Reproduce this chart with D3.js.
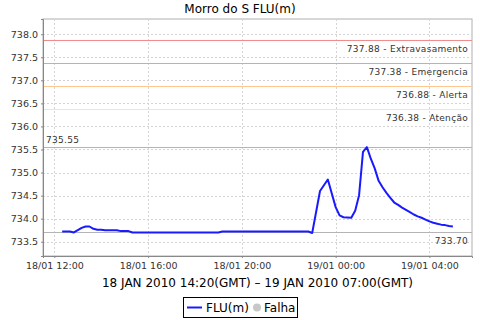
<!DOCTYPE html>
<html>
<head>
<meta charset="utf-8">
<script src="https://cdn.jsdelivr.net/npm/d3@7"></script>
<style>
  body { margin: 0; background: #fff; }
  svg { display: block; font-family: "DejaVu Sans", sans-serif; }
</style>
</head>
<body>
<div id="chart"></div>
<script>
// readings (local time, 10 min steps where the curve bends)
const times = [
  "2010-01-18 12:20", "2010-01-18 12:30", "2010-01-18 12:40", "2010-01-18 12:50",
  "2010-01-18 13:00", "2010-01-18 13:10", "2010-01-18 13:20", "2010-01-18 13:30",
  "2010-01-18 13:40", "2010-01-18 13:50", "2010-01-18 14:00", "2010-01-18 14:10",
  "2010-01-18 14:20", "2010-01-18 14:30", "2010-01-18 14:40", "2010-01-18 14:50",
  "2010-01-18 15:00", "2010-01-18 15:10", "2010-01-18 15:20", "2010-01-18 19:00",
  "2010-01-18 19:10", "2010-01-18 22:50", "2010-01-18 23:00", "2010-01-18 23:20",
  "2010-01-18 23:40", "2010-01-19 00:00", "2010-01-19 00:10", "2010-01-19 00:20",
  "2010-01-19 00:40", "2010-01-19 00:50", "2010-01-19 01:00", "2010-01-19 01:10",
  "2010-01-19 01:20", "2010-01-19 01:30", "2010-01-19 01:40", "2010-01-19 01:50",
  "2010-01-19 02:00", "2010-01-19 02:10", "2010-01-19 02:20", "2010-01-19 02:30",
  "2010-01-19 02:40", "2010-01-19 02:50", "2010-01-19 03:00", "2010-01-19 03:10",
  "2010-01-19 03:20", "2010-01-19 03:30", "2010-01-19 03:40", "2010-01-19 03:50",
  "2010-01-19 04:00", "2010-01-19 04:10", "2010-01-19 04:20", "2010-01-19 04:30",
  "2010-01-19 04:40", "2010-01-19 04:50", "2010-01-19 05:00"
]
const flu = [
  733.72, 733.72, 733.72, 733.70,
  733.75, 733.80, 733.83, 733.83,
  733.78, 733.76, 733.76, 733.75,
  733.75, 733.75, 733.75, 733.73,
  733.73, 733.73, 733.70, 733.70,
  733.72, 733.72, 733.69, 734.60,
  734.85, 734.25, 734.07, 734.03,
  734.02, 734.17, 734.51, 735.45,
  735.55, 735.30, 735.09, 734.82,
  734.68, 734.56, 734.45, 734.35,
  734.30, 734.24, 734.19, 734.14,
  734.09, 734.05, 734.02, 733.98,
  733.94, 733.91, 733.89, 733.87,
  733.86, 733.84, 733.83
]

// threshold markers
const levelValues = [737.88, 737.38, 736.88, 736.38]
const levelNames = ["Extravasamento", "Emergencia", "Alerta", "Atenção"]
const levelColors = ["#f08c8c", "#ff80ff", "#ffc890", "#f8f07c"]

const maxValue = 735.55
const minValue = 733.70

const yTicks = [733.5, 734.0, 734.5, 735.0, 735.5, 736.0, 736.5, 737.0, 737.5, 738.0]
const xTicks = ["2010-01-18 12:00", "2010-01-18 16:00", "2010-01-18 20:00", "2010-01-19 00:00", "2010-01-19 04:00"]
const xDomain = ["2010-01-18 11:31", "2010-01-19 05:49"]
const yDomain = [733.19, 738.33]

const title = "Morro do S FLU(m)"
const xTitle = "18 JAN 2010 14:20(GMT) – 19 JAN 2010 07:00(GMT)"

const width = 480
const height = 320
const plot = { left: 43, top: 19, right: 472, bottom: 256 }

const parse = d3.utcParse("%Y-%m-%d %H:%M")
const fmt = d3.utcFormat("%d/%m %H:%M")

const data = times.map((t, i) => ({ t: parse(t), v: flu[i] }))

const svg = d3.select("#chart").append("svg")
  .attr("width", width)
  .attr("height", height)

const x = d3.scaleUtc().domain(xDomain.map(parse)).range([plot.left, plot.right])
const y = d3.scaleLinear().domain(yDomain).range([plot.bottom, plot.top])

svg.append("text")
  .attr("x", width / 2).attr("y", 13)
  .attr("text-anchor", "middle")
  .attr("font-size", 12)
  .attr("fill", "#000")
  .text(title)

svg.append("rect")
  .attr("x", plot.left).attr("y", plot.top)
  .attr("width", plot.right - plot.left).attr("height", plot.bottom - plot.top)
  .attr("fill", "#fff")
  .attr("stroke", "#b0b0b0")

// gridlines
svg.append("g").selectAll("line")
  .data(yTicks).join("line")
  .attr("x1", plot.left).attr("x2", plot.right)
  .attr("y1", d => Math.round(y(d)) + 0.5).attr("y2", d => Math.round(y(d)) + 0.5)
  .attr("stroke", "#d4d4d4").attr("stroke-dasharray", "2,2")

svg.append("g").selectAll("line")
  .data(xTicks.map(parse)).join("line")
  .attr("x1", d => Math.round(x(d)) + 0.5).attr("x2", d => Math.round(x(d)) + 0.5)
  .attr("y1", plot.top).attr("y2", plot.bottom)
  .attr("stroke", "#d4d4d4").attr("stroke-dasharray", "2,2")

// threshold lines + labels
levelValues.forEach((v, i) => {
  const yy = Math.round(y(v)) + 0.5
  svg.append("line")
    .attr("x1", plot.left).attr("x2", plot.right)
    .attr("y1", yy).attr("y2", yy)
    .attr("stroke", levelColors[i])
  svg.append("text")
    .attr("x", plot.right - 4).attr("y", yy + 11)
    .attr("text-anchor", "end")
    .attr("font-size", 9)
    .attr("letter-spacing", 0.3)
    .attr("fill", "#333")
    .text(`${v.toFixed(2)} - ${levelNames[i]}`)
})

// max / min lines
const yMax = Math.round(y(maxValue)) + 0.5
const yMin = Math.round(y(minValue)) + 0.5
svg.append("line")
  .attr("x1", plot.left).attr("x2", plot.right)
  .attr("y1", yMax).attr("y2", yMax)
  .attr("stroke", "#b4b4b4")
svg.append("text")
  .attr("x", plot.left + 3).attr("y", yMax - 5)
  .attr("font-size", 9).attr("letter-spacing", 0.3)
  .attr("fill", "#333")
  .text(maxValue.toFixed(2))
svg.append("line")
  .attr("x1", plot.left).attr("x2", plot.right)
  .attr("y1", yMin).attr("y2", yMin)
  .attr("stroke", "#b4b4b4")
svg.append("text")
  .attr("x", plot.right - 4).attr("y", yMin + 11)
  .attr("text-anchor", "end")
  .attr("font-size", 9).attr("letter-spacing", 0.3)
  .attr("fill", "#333")
  .text(minValue.toFixed(2))

// the series
svg.append("path")
  .datum(data)
  .attr("fill", "none")
  .attr("stroke", "#1a1aff")
  .attr("stroke-width", 2)
  .attr("stroke-linejoin", "round")
  .attr("d", d3.line().x(d => x(d.t)).y(d => y(d.v)))

// axes
const yAxis = svg.append("g")
  .attr("transform", `translate(${plot.left},0)`)
  .call(d3.axisLeft(y).tickValues(yTicks).tickFormat(d3.format(".1f")).tickSize(2).tickPadding(3))
yAxis.select(".domain").attr("stroke", "#888")
yAxis.selectAll(".tick line").attr("stroke", "#888")
yAxis.selectAll("text").attr("font-size", 9.5).attr("fill", "#333")
  .attr("font-family", "DejaVu Sans")

const xAxis = svg.append("g")
  .attr("transform", `translate(0,${plot.bottom})`)
  .call(d3.axisBottom(x).tickValues(xTicks.map(parse)).tickFormat(fmt).tickSize(2).tickPadding(4))
xAxis.select(".domain").attr("stroke", "#888")
xAxis.selectAll(".tick line").attr("stroke", "#888")
xAxis.selectAll("text").attr("font-size", 9.5).attr("fill", "#333")
  .attr("font-family", "DejaVu Sans")

svg.append("text")
  .attr("x", (plot.left + plot.right) / 2).attr("y", 287)
  .attr("text-anchor", "middle")
  .attr("font-size", 12)
  .attr("fill", "#000")
  .text(xTitle)

// legend
const legend = svg.append("g")
legend.append("rect")
  .attr("x", 183.5).attr("y", 297.5)
  .attr("width", 114).attr("height", 20)
  .attr("fill", "#fff").attr("stroke", "#000")
legend.append("line")
  .attr("x1", 187).attr("x2", 202).attr("y1", 307.5).attr("y2", 307.5)
  .attr("stroke", "#1a1aff").attr("stroke-width", 2)
legend.append("text")
  .attr("x", 206).attr("y", 312)
  .attr("font-size", 12).attr("fill", "#000")
  .text("FLU(m)")
legend.append("circle")
  .attr("cx", 257).attr("cy", 307.5).attr("r", 4)
  .attr("fill", "#c8c8c8")
legend.append("text")
  .attr("x", 264).attr("y", 312)
  .attr("font-size", 12).attr("fill", "#000")
  .text("Falha")
</script>
</body>
</html>
